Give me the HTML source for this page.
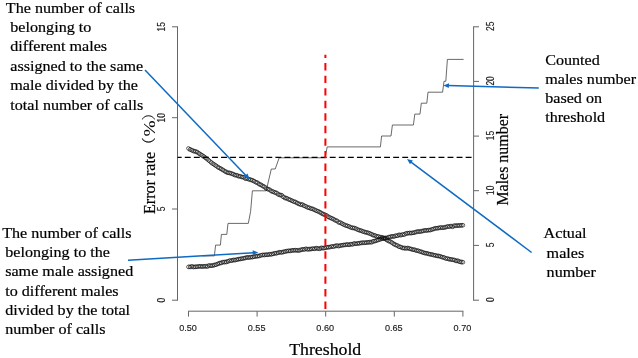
<!DOCTYPE html>
<html><head><meta charset="utf-8"><title>Threshold</title>
<style>
html,body{margin:0;padding:0;background:#fff;}
svg{display:block}
.tk{font-family:"Liberation Sans",sans-serif;font-size:9.1px;fill:#222;stroke:#222;stroke-width:0.15px}
.an{font-family:"Liberation Serif","Noto Serif CJK SC",serif;font-size:15.25px;fill:#000;stroke:#000;stroke-width:0.2px}
.lb{font-family:"Liberation Serif","Noto Serif CJK SC",serif;font-size:17.5px;fill:#000;stroke:#000;stroke-width:0.2px}
.pr{font-size:14px;stroke-width:0.1px}
.ax line,.ax polyline{stroke:#666;stroke-width:1;fill:none}
.pts circle{fill:none;stroke:#000;stroke-width:0.6}
.pts polyline{fill:none;stroke:#111;stroke-width:0.5}
.arr line{stroke:#0f6ac4;stroke-width:1.5}
.arr polygon{fill:#0f6ac4}
</style></head><body>
<svg width="638" height="358" viewBox="0 0 638 358">
<rect width="638" height="358" fill="#fff"/>
<g class="ax">
<line x1="177.5" y1="26.4" x2="177.5" y2="300.6"/><line x1="172" y1="300.2" x2="177.5" y2="300.2"/><line x1="172" y1="209.0" x2="177.5" y2="209.0"/><line x1="172" y1="117.7" x2="177.5" y2="117.7"/><line x1="172" y1="26.8" x2="177.5" y2="26.8"/>
<line x1="473.6" y1="26.4" x2="473.6" y2="300.6"/><line x1="473.5" y1="300.2" x2="479" y2="300.2"/><line x1="473.5" y1="245.4" x2="479" y2="245.4"/><line x1="473.5" y1="190.7" x2="479" y2="190.7"/><line x1="473.5" y1="136.1" x2="479" y2="136.1"/><line x1="473.5" y1="81.4" x2="479" y2="81.4"/><line x1="473.5" y1="26.8" x2="479" y2="26.8"/>
<line x1="188.05" y1="311.2" x2="463.35" y2="311.2"/><line x1="188.5" y1="311.2" x2="188.5" y2="316.6"/><line x1="257.1" y1="311.2" x2="257.1" y2="316.6"/><line x1="325.7" y1="311.2" x2="325.7" y2="316.6"/><line x1="394.3" y1="311.2" x2="394.3" y2="316.6"/><line x1="462.9" y1="311.2" x2="462.9" y2="316.6"/>
</g>
<text class="tk" transform="translate(165.0,300.2) rotate(-90) scale(0.93,1.13)" text-anchor="middle">0</text><text class="tk" transform="translate(165.0,209.0) rotate(-90) scale(0.93,1.13)" text-anchor="middle">5</text><text class="tk" transform="translate(165.0,117.7) rotate(-90) scale(0.93,1.13)" text-anchor="middle">10</text><text class="tk" transform="translate(165.0,26.8) rotate(-90) scale(0.93,1.13)" text-anchor="middle">15</text><text class="tk" transform="translate(493.6,299.6) rotate(-90) scale(0.93,1.13)" text-anchor="middle">0</text><text class="tk" transform="translate(493.6,244.9) rotate(-90) scale(0.93,1.13)" text-anchor="middle">5</text><text class="tk" transform="translate(493.6,190.2) rotate(-90) scale(0.93,1.13)" text-anchor="middle">10</text><text class="tk" transform="translate(493.6,135.6) rotate(-90) scale(0.93,1.13)" text-anchor="middle">15</text><text class="tk" transform="translate(493.6,80.89999999999999) rotate(-90) scale(0.93,1.13)" text-anchor="middle">20</text><text class="tk" transform="translate(493.6,26.200000000000003) rotate(-90) scale(0.93,1.13)" text-anchor="middle">25</text><text class="tk" x="188.0" y="330.6" text-anchor="middle">0.50</text><text class="tk" x="256.6" y="330.6" text-anchor="middle">0.55</text><text class="tk" x="325.2" y="330.6" text-anchor="middle">0.60</text><text class="tk" x="393.8" y="330.6" text-anchor="middle">0.65</text><text class="tk" x="462.4" y="330.6" text-anchor="middle">0.70</text>
<polyline points="202.4,255.9 214.4,255.9 215.6,245.1 220.4,245.1 221.4,234.4 226.8,234.4 228,223.4 248.3,223.4 250.6,211.5 252.4,190.8 266.2,190.8 271.3,169 275.2,169 279.2,157.8 325,157.8 327.2,146.9 380.4,146.9 381.6,136 391,136 392.4,125 413.4,125 414.8,114.1 420,114.1 421.3,103.2 426.8,103.2 428,92.2 442.6,92.2 444,81.3 445.8,81.3 447.4,59.4 463.6,59.4" fill="none" stroke="#444" stroke-width="0.8"/>
<line x1="177.5" y1="157.4" x2="473.5" y2="157.4" stroke="#000" stroke-width="1.1" stroke-dasharray="5.9,3.16" stroke-dashoffset="1.76"/>
<g class="pts"><circle cx="188.4" cy="148.4" r="1.8"/><circle cx="190.1" cy="149.4" r="1.8"/><circle cx="191.9" cy="150.3" r="1.8"/><circle cx="193.6" cy="151.2" r="1.8"/><circle cx="195.3" cy="151.3" r="1.8"/><circle cx="197.0" cy="151.9" r="1.8"/><circle cx="198.8" cy="153.3" r="1.8"/><circle cx="200.5" cy="154.4" r="1.8"/><circle cx="202.2" cy="155.4" r="1.8"/><circle cx="203.9" cy="156.6" r="1.8"/><circle cx="205.7" cy="157.9" r="1.8"/><circle cx="207.4" cy="159.2" r="1.8"/><circle cx="209.1" cy="160.6" r="1.8"/><circle cx="210.9" cy="162.3" r="1.8"/><circle cx="212.6" cy="163.6" r="1.8"/><circle cx="214.3" cy="164.6" r="1.8"/><circle cx="216.0" cy="165.7" r="1.8"/><circle cx="217.8" cy="167.2" r="1.8"/><circle cx="219.5" cy="168.0" r="1.8"/><circle cx="221.2" cy="168.9" r="1.8"/><circle cx="222.9" cy="169.9" r="1.8"/><circle cx="224.7" cy="171.2" r="1.8"/><circle cx="226.4" cy="172.2" r="1.8"/><circle cx="228.1" cy="172.9" r="1.8"/><circle cx="229.8" cy="172.9" r="1.8"/><circle cx="231.6" cy="173.5" r="1.8"/><circle cx="233.3" cy="174.2" r="1.8"/><circle cx="235.0" cy="175.2" r="1.8"/><circle cx="236.8" cy="175.2" r="1.8"/><circle cx="238.5" cy="176.3" r="1.8"/><circle cx="240.2" cy="176.3" r="1.8"/><circle cx="241.9" cy="176.9" r="1.8"/><circle cx="243.7" cy="177.2" r="1.8"/><circle cx="245.4" cy="178.7" r="1.8"/><circle cx="247.1" cy="178.4" r="1.8"/><circle cx="248.8" cy="179.2" r="1.8"/><circle cx="250.6" cy="179.8" r="1.8"/><circle cx="252.3" cy="180.2" r="1.8"/><circle cx="254.0" cy="181.1" r="1.8"/><circle cx="255.8" cy="182.2" r="1.8"/><circle cx="257.5" cy="182.7" r="1.8"/><circle cx="259.2" cy="184.2" r="1.8"/><circle cx="260.9" cy="184.8" r="1.8"/><circle cx="262.7" cy="185.9" r="1.8"/><circle cx="264.4" cy="186.8" r="1.8"/><circle cx="266.1" cy="188.5" r="1.8"/><circle cx="267.8" cy="189.1" r="1.8"/><circle cx="269.6" cy="189.6" r="1.8"/><circle cx="271.3" cy="191.2" r="1.8"/><circle cx="273.0" cy="191.7" r="1.8"/><circle cx="274.8" cy="192.4" r="1.8"/><circle cx="276.5" cy="192.8" r="1.8"/><circle cx="278.2" cy="194.5" r="1.8"/><circle cx="279.9" cy="195.0" r="1.8"/><circle cx="281.7" cy="195.1" r="1.8"/><circle cx="283.4" cy="197.0" r="1.8"/><circle cx="285.1" cy="198.2" r="1.8"/><circle cx="286.8" cy="198.2" r="1.8"/><circle cx="288.6" cy="199.3" r="1.8"/><circle cx="290.3" cy="199.9" r="1.8"/><circle cx="292.0" cy="200.8" r="1.8"/><circle cx="293.7" cy="201.6" r="1.8"/><circle cx="295.5" cy="201.9" r="1.8"/><circle cx="297.2" cy="203.1" r="1.8"/><circle cx="298.9" cy="204.0" r="1.8"/><circle cx="300.7" cy="204.7" r="1.8"/><circle cx="302.4" cy="204.4" r="1.8"/><circle cx="304.1" cy="205.7" r="1.8"/><circle cx="305.8" cy="206.4" r="1.8"/><circle cx="307.6" cy="207.5" r="1.8"/><circle cx="309.3" cy="207.8" r="1.8"/><circle cx="311.0" cy="208.6" r="1.8"/><circle cx="312.7" cy="208.8" r="1.8"/><circle cx="314.5" cy="209.8" r="1.8"/><circle cx="316.2" cy="210.7" r="1.8"/><circle cx="317.9" cy="211.2" r="1.8"/><circle cx="319.7" cy="212.0" r="1.8"/><circle cx="321.4" cy="213.2" r="1.8"/><circle cx="323.1" cy="214.2" r="1.8"/><circle cx="324.8" cy="214.6" r="1.8"/><circle cx="326.6" cy="215.4" r="1.8"/><circle cx="328.3" cy="216.9" r="1.8"/><circle cx="330.0" cy="217.7" r="1.8"/><circle cx="331.7" cy="218.3" r="1.8"/><circle cx="333.5" cy="219.1" r="1.8"/><circle cx="335.2" cy="220.3" r="1.8"/><circle cx="336.9" cy="220.7" r="1.8"/><circle cx="338.7" cy="222.5" r="1.8"/><circle cx="340.4" cy="222.6" r="1.8"/><circle cx="342.1" cy="223.6" r="1.8"/><circle cx="343.8" cy="224.6" r="1.8"/><circle cx="345.6" cy="225.5" r="1.8"/><circle cx="347.3" cy="225.8" r="1.8"/><circle cx="349.0" cy="226.5" r="1.8"/><circle cx="350.7" cy="227.5" r="1.8"/><circle cx="352.5" cy="227.9" r="1.8"/><circle cx="354.2" cy="227.9" r="1.8"/><circle cx="355.9" cy="228.6" r="1.8"/><circle cx="357.7" cy="229.7" r="1.8"/><circle cx="359.4" cy="230.3" r="1.8"/><circle cx="361.1" cy="230.6" r="1.8"/><circle cx="362.8" cy="231.4" r="1.8"/><circle cx="364.6" cy="232.1" r="1.8"/><circle cx="366.3" cy="232.4" r="1.8"/><circle cx="368.0" cy="232.7" r="1.8"/><circle cx="369.7" cy="233.4" r="1.8"/><circle cx="371.5" cy="234.2" r="1.8"/><circle cx="373.2" cy="235.3" r="1.8"/><circle cx="374.9" cy="235.4" r="1.8"/><circle cx="376.6" cy="236.4" r="1.8"/><circle cx="378.4" cy="236.5" r="1.8"/><circle cx="380.1" cy="237.3" r="1.8"/><circle cx="381.8" cy="237.2" r="1.8"/><circle cx="383.6" cy="237.7" r="1.8"/><circle cx="385.3" cy="238.8" r="1.8"/><circle cx="387.0" cy="240.2" r="1.8"/><circle cx="388.7" cy="241.1" r="1.8"/><circle cx="390.5" cy="241.6" r="1.8"/><circle cx="392.2" cy="242.7" r="1.8"/><circle cx="393.9" cy="244.1" r="1.8"/><circle cx="395.6" cy="245.0" r="1.8"/><circle cx="397.4" cy="245.5" r="1.8"/><circle cx="399.1" cy="246.8" r="1.8"/><circle cx="400.8" cy="247.0" r="1.8"/><circle cx="402.6" cy="248.1" r="1.8"/><circle cx="404.3" cy="248.2" r="1.8"/><circle cx="406.0" cy="248.4" r="1.8"/><circle cx="407.7" cy="247.9" r="1.8"/><circle cx="409.5" cy="248.6" r="1.8"/><circle cx="411.2" cy="249.1" r="1.8"/><circle cx="412.9" cy="249.7" r="1.8"/><circle cx="414.6" cy="249.7" r="1.8"/><circle cx="416.4" cy="250.6" r="1.8"/><circle cx="418.1" cy="250.7" r="1.8"/><circle cx="419.8" cy="251.4" r="1.8"/><circle cx="421.6" cy="251.9" r="1.8"/><circle cx="423.3" cy="252.7" r="1.8"/><circle cx="425.0" cy="253.2" r="1.8"/><circle cx="426.7" cy="253.2" r="1.8"/><circle cx="428.5" cy="253.9" r="1.8"/><circle cx="430.2" cy="254.3" r="1.8"/><circle cx="431.9" cy="254.5" r="1.8"/><circle cx="433.6" cy="255.1" r="1.8"/><circle cx="435.4" cy="255.4" r="1.8"/><circle cx="437.1" cy="256.0" r="1.8"/><circle cx="438.8" cy="255.9" r="1.8"/><circle cx="440.5" cy="256.5" r="1.8"/><circle cx="442.3" cy="257.2" r="1.8"/><circle cx="444.0" cy="257.5" r="1.8"/><circle cx="445.7" cy="258.5" r="1.8"/><circle cx="447.5" cy="258.6" r="1.8"/><circle cx="449.2" cy="259.2" r="1.8"/><circle cx="450.9" cy="259.4" r="1.8"/><circle cx="452.6" cy="259.7" r="1.8"/><circle cx="454.4" cy="259.9" r="1.8"/><circle cx="456.1" cy="261.0" r="1.8"/><circle cx="457.8" cy="260.6" r="1.8"/><circle cx="459.5" cy="261.7" r="1.8"/><circle cx="461.3" cy="262.2" r="1.8"/><circle cx="463.0" cy="262.2" r="1.8"/><polyline points="187.9,150.7 189.6,151.2 191.2,151.8 192.9,152.5 194.5,153.2 196.3,154.0 197.9,154.8 199.5,155.8 201.2,157.0 202.9,158.2 204.6,159.4 206.3,160.7 208.0,162.1 209.8,163.5 211.5,164.8 213.3,166.1 215.1,167.3 216.8,168.4 218.5,169.5 220.3,170.6 222.0,171.6 223.8,172.6 225.7,173.5 227.5,174.2 229.3,174.8 231.0,175.5 232.7,175.9 234.4,176.6 236.2,177.2 238.0,177.7 239.7,178.1 241.4,178.8 243.2,179.2 244.8,179.8 246.5,180.4 248.3,181.0 250.0,181.4 251.6,182.1 253.3,182.8 254.9,183.7 256.6,184.6 258.3,185.5 260.0,186.4 261.7,187.6 263.5,188.6 265.2,189.5 266.9,190.6 268.7,191.6 270.6,192.4 272.2,193.2 273.9,194.1 275.8,194.9 277.5,195.6 279.0,196.4 280.8,197.5 282.6,198.3 284.3,199.2 286.0,200.1 287.9,200.9 289.6,201.6 291.3,202.3 293.0,203.1 294.7,203.9 296.6,204.7 298.3,205.3 300.0,206.0 301.7,206.7 303.5,207.4 305.1,208.0 306.9,208.8 308.6,209.5 310.4,210.2 312.1,210.8 313.8,211.5 315.5,212.1 317.1,213.0 318.9,213.9 320.6,214.7 322.3,215.5 324.0,216.4 325.8,217.4 327.5,218.2 329.2,219.1 330.9,220.1 332.7,220.8 334.4,221.8 336.1,222.6 337.8,223.5 339.5,224.4 341.3,225.4 343.1,226.1 344.8,226.8 346.6,227.6 348.5,228.3 350.2,228.8 351.9,229.4 353.6,230.0 355.4,230.6 357.0,231.1 358.7,231.8 360.5,232.5 362.3,233.1 364.0,233.6 365.7,234.1 367.4,234.7 369.1,235.3 370.8,235.9 372.5,236.6 374.3,237.2 376.1,237.9 378.0,238.3 379.6,238.8 381.2,239.2 382.9,239.9 384.5,240.6 386.1,241.4 387.8,242.4 389.6,243.5 391.3,244.5 393.0,245.4 394.8,246.4 396.6,247.3 398.4,248.1 400.2,248.8 402.2,249.4 404.0,249.7 405.7,250.0 407.5,250.2 409.2,250.5 410.8,250.7 412.4,251.3 414.2,251.7 415.9,252.2 417.6,252.6 419.3,253.2 421.0,253.7 422.8,254.2 424.5,254.7 426.3,255.2 428.1,255.6 429.8,256.0 431.5,256.4 433.3,256.8 435.0,257.1 436.7,257.5 438.4,257.9 440.1,258.3 441.8,258.8 443.5,259.4 445.2,259.9 447.0,260.4 448.8,260.9 450.5,261.1 452.3,261.6 454.0,261.9 455.6,262.3 457.3,262.8 459.2,263.3 461.0,263.6 462.7,263.9"/><polyline points="188.9,147.3 190.7,147.8 192.5,148.4 194.3,149.2 196.1,150.0 197.8,150.8 199.6,151.7 201.5,152.8 203.2,154.0 205.0,155.2 206.8,156.5 208.5,157.9 210.2,159.3 211.9,160.6 213.7,161.9 215.3,163.2 217.0,164.3 218.7,165.3 220.4,166.4 222.2,167.5 223.8,168.5 225.5,169.4 227.1,170.2 228.8,170.9 230.4,171.4 232.1,172.0 233.9,172.5 235.6,173.2 237.3,173.7 239.0,174.2 240.8,174.7 242.5,175.4 244.2,175.7 246.0,176.4 247.7,177.0 249.4,177.5 251.2,178.0 253.0,178.8 254.8,179.5 256.6,180.5 258.3,181.4 260.1,182.4 261.9,183.3 263.6,184.5 265.3,185.4 267.0,186.4 268.8,187.5 270.4,188.4 272.0,189.2 273.8,189.9 275.6,190.9 277.2,191.6 279.0,192.3 280.8,193.3 282.5,194.3 284.2,195.1 286.0,196.0 287.6,196.9 289.3,197.6 291.0,198.3 292.7,199.0 294.5,199.8 296.2,200.6 297.9,201.4 299.6,201.9 301.3,202.7 303.0,203.3 304.8,204.0 306.5,204.7 308.3,205.5 309.9,206.1 311.7,206.8 313.4,207.5 315.1,208.1 316.9,208.8 318.7,209.8 320.4,210.6 322.2,211.4 324.0,212.3 325.7,213.3 327.4,214.2 329.1,215.0 330.9,215.9 332.6,216.8 334.3,217.6 336.0,218.6 337.7,219.4 339.5,220.3 341.2,221.2 342.9,222.1 344.5,222.8 346.3,223.6 348.0,224.3 349.6,224.9 351.3,225.4 353.1,226.0 354.8,226.6 356.5,227.1 358.3,227.7 360.1,228.5 361.7,229.1 363.3,229.6 365.1,230.1 366.8,230.7 368.6,231.3 370.3,231.9 372.1,232.5 373.9,233.2 375.5,233.9 377.2,234.5 378.8,234.8 380.6,235.3 382.4,235.8 384.3,236.6 386.1,237.3 387.9,238.3 389.7,239.3 391.4,240.4 393.0,241.3 394.8,242.2 396.5,243.2 398.2,244.1 399.8,244.8 401.4,245.4 402.9,245.9 404.6,246.1 406.3,246.4 408.0,246.6 409.8,246.9 411.6,247.2 413.4,247.8 415.1,248.2 416.8,248.7 418.6,249.1 420.4,249.7 422.1,250.2 423.8,250.7 425.5,251.3 427.2,251.7 428.8,252.1 430.6,252.5 432.4,252.9 434.0,253.3 435.7,253.6 437.5,254.0 439.2,254.4 441.0,254.9 442.8,255.4 444.6,255.9 446.2,256.5 447.9,256.9 449.6,257.3 451.3,257.6 453.0,258.1 454.7,258.4 456.6,258.9 458.3,259.4 459.9,259.8 461.6,260.0 463.3,260.4"/><circle cx="188.4" cy="266.9" r="1.8"/><circle cx="190.1" cy="267.0" r="1.8"/><circle cx="191.9" cy="266.3" r="1.8"/><circle cx="193.6" cy="267.1" r="1.8"/><circle cx="195.3" cy="266.9" r="1.8"/><circle cx="197.0" cy="266.7" r="1.8"/><circle cx="198.8" cy="266.3" r="1.8"/><circle cx="200.5" cy="266.3" r="1.8"/><circle cx="202.2" cy="266.6" r="1.8"/><circle cx="203.9" cy="266.3" r="1.8"/><circle cx="205.7" cy="266.3" r="1.8"/><circle cx="207.4" cy="266.6" r="1.8"/><circle cx="209.1" cy="265.4" r="1.8"/><circle cx="210.9" cy="265.7" r="1.8"/><circle cx="212.6" cy="265.6" r="1.8"/><circle cx="214.3" cy="265.1" r="1.8"/><circle cx="216.0" cy="264.7" r="1.8"/><circle cx="217.8" cy="263.9" r="1.8"/><circle cx="219.5" cy="263.1" r="1.8"/><circle cx="221.2" cy="262.9" r="1.8"/><circle cx="222.9" cy="262.0" r="1.8"/><circle cx="224.7" cy="262.1" r="1.8"/><circle cx="226.4" cy="262.1" r="1.8"/><circle cx="228.1" cy="261.3" r="1.8"/><circle cx="229.8" cy="260.5" r="1.8"/><circle cx="231.6" cy="260.7" r="1.8"/><circle cx="233.3" cy="259.9" r="1.8"/><circle cx="235.0" cy="260.2" r="1.8"/><circle cx="236.8" cy="259.7" r="1.8"/><circle cx="238.5" cy="259.1" r="1.8"/><circle cx="240.2" cy="259.0" r="1.8"/><circle cx="241.9" cy="258.7" r="1.8"/><circle cx="243.7" cy="258.3" r="1.8"/><circle cx="245.4" cy="257.9" r="1.8"/><circle cx="247.1" cy="257.3" r="1.8"/><circle cx="248.8" cy="257.6" r="1.8"/><circle cx="250.6" cy="257.2" r="1.8"/><circle cx="252.3" cy="257.1" r="1.8"/><circle cx="254.0" cy="256.7" r="1.8"/><circle cx="255.8" cy="256.3" r="1.8"/><circle cx="257.5" cy="256.2" r="1.8"/><circle cx="259.2" cy="256.1" r="1.8"/><circle cx="260.9" cy="255.2" r="1.8"/><circle cx="262.7" cy="254.8" r="1.8"/><circle cx="264.4" cy="255.0" r="1.8"/><circle cx="266.1" cy="254.7" r="1.8"/><circle cx="267.8" cy="254.8" r="1.8"/><circle cx="269.6" cy="254.2" r="1.8"/><circle cx="271.3" cy="254.4" r="1.8"/><circle cx="273.0" cy="253.9" r="1.8"/><circle cx="274.8" cy="253.2" r="1.8"/><circle cx="276.5" cy="253.3" r="1.8"/><circle cx="278.2" cy="252.7" r="1.8"/><circle cx="279.9" cy="252.1" r="1.8"/><circle cx="281.7" cy="252.5" r="1.8"/><circle cx="283.4" cy="252.0" r="1.8"/><circle cx="285.1" cy="251.5" r="1.8"/><circle cx="286.8" cy="251.0" r="1.8"/><circle cx="288.6" cy="250.8" r="1.8"/><circle cx="290.3" cy="251.0" r="1.8"/><circle cx="292.0" cy="250.4" r="1.8"/><circle cx="293.7" cy="250.3" r="1.8"/><circle cx="295.5" cy="250.1" r="1.8"/><circle cx="297.2" cy="250.4" r="1.8"/><circle cx="298.9" cy="250.6" r="1.8"/><circle cx="300.7" cy="249.9" r="1.8"/><circle cx="302.4" cy="249.3" r="1.8"/><circle cx="304.1" cy="249.5" r="1.8"/><circle cx="305.8" cy="248.7" r="1.8"/><circle cx="307.6" cy="249.3" r="1.8"/><circle cx="309.3" cy="249.3" r="1.8"/><circle cx="311.0" cy="249.0" r="1.8"/><circle cx="312.7" cy="248.6" r="1.8"/><circle cx="314.5" cy="248.9" r="1.8"/><circle cx="316.2" cy="248.0" r="1.8"/><circle cx="317.9" cy="248.6" r="1.8"/><circle cx="319.7" cy="248.9" r="1.8"/><circle cx="321.4" cy="247.7" r="1.8"/><circle cx="323.1" cy="248.2" r="1.8"/><circle cx="324.8" cy="248.0" r="1.8"/><circle cx="326.6" cy="247.4" r="1.8"/><circle cx="328.3" cy="247.2" r="1.8"/><circle cx="330.0" cy="247.1" r="1.8"/><circle cx="331.7" cy="246.4" r="1.8"/><circle cx="333.5" cy="246.7" r="1.8"/><circle cx="335.2" cy="245.9" r="1.8"/><circle cx="336.9" cy="245.5" r="1.8"/><circle cx="338.7" cy="246.2" r="1.8"/><circle cx="340.4" cy="245.6" r="1.8"/><circle cx="342.1" cy="245.2" r="1.8"/><circle cx="343.8" cy="245.0" r="1.8"/><circle cx="345.6" cy="244.8" r="1.8"/><circle cx="347.3" cy="244.4" r="1.8"/><circle cx="349.0" cy="244.9" r="1.8"/><circle cx="350.7" cy="244.2" r="1.8"/><circle cx="352.5" cy="244.4" r="1.8"/><circle cx="354.2" cy="243.4" r="1.8"/><circle cx="355.9" cy="243.8" r="1.8"/><circle cx="357.7" cy="243.4" r="1.8"/><circle cx="359.4" cy="243.3" r="1.8"/><circle cx="361.1" cy="242.9" r="1.8"/><circle cx="362.8" cy="242.6" r="1.8"/><circle cx="364.6" cy="242.8" r="1.8"/><circle cx="366.3" cy="242.6" r="1.8"/><circle cx="368.0" cy="242.3" r="1.8"/><circle cx="369.7" cy="242.2" r="1.8"/><circle cx="371.5" cy="242.4" r="1.8"/><circle cx="373.2" cy="241.3" r="1.8"/><circle cx="374.9" cy="241.0" r="1.8"/><circle cx="376.6" cy="240.5" r="1.8"/><circle cx="378.4" cy="239.9" r="1.8"/><circle cx="380.1" cy="239.2" r="1.8"/><circle cx="381.8" cy="238.8" r="1.8"/><circle cx="383.6" cy="238.5" r="1.8"/><circle cx="385.3" cy="238.0" r="1.8"/><circle cx="387.0" cy="238.0" r="1.8"/><circle cx="388.7" cy="237.1" r="1.8"/><circle cx="390.5" cy="236.7" r="1.8"/><circle cx="392.2" cy="236.3" r="1.8"/><circle cx="393.9" cy="236.6" r="1.8"/><circle cx="395.6" cy="235.8" r="1.8"/><circle cx="397.4" cy="235.7" r="1.8"/><circle cx="399.1" cy="234.7" r="1.8"/><circle cx="400.8" cy="235.2" r="1.8"/><circle cx="402.6" cy="234.6" r="1.8"/><circle cx="404.3" cy="234.6" r="1.8"/><circle cx="406.0" cy="233.4" r="1.8"/><circle cx="407.7" cy="233.1" r="1.8"/><circle cx="409.5" cy="232.9" r="1.8"/><circle cx="411.2" cy="233.2" r="1.8"/><circle cx="412.9" cy="232.9" r="1.8"/><circle cx="414.6" cy="232.5" r="1.8"/><circle cx="416.4" cy="231.8" r="1.8"/><circle cx="418.1" cy="231.4" r="1.8"/><circle cx="419.8" cy="231.7" r="1.8"/><circle cx="421.6" cy="231.3" r="1.8"/><circle cx="423.3" cy="230.8" r="1.8"/><circle cx="425.0" cy="230.3" r="1.8"/><circle cx="426.7" cy="230.5" r="1.8"/><circle cx="428.5" cy="230.1" r="1.8"/><circle cx="430.2" cy="230.2" r="1.8"/><circle cx="431.9" cy="229.5" r="1.8"/><circle cx="433.6" cy="228.9" r="1.8"/><circle cx="435.4" cy="228.2" r="1.8"/><circle cx="437.1" cy="228.3" r="1.8"/><circle cx="438.8" cy="228.0" r="1.8"/><circle cx="440.5" cy="227.4" r="1.8"/><circle cx="442.3" cy="227.8" r="1.8"/><circle cx="444.0" cy="227.6" r="1.8"/><circle cx="445.7" cy="227.2" r="1.8"/><circle cx="447.5" cy="226.4" r="1.8"/><circle cx="449.2" cy="226.6" r="1.8"/><circle cx="450.9" cy="226.0" r="1.8"/><circle cx="452.6" cy="226.9" r="1.8"/><circle cx="454.4" cy="225.6" r="1.8"/><circle cx="456.1" cy="225.6" r="1.8"/><circle cx="457.8" cy="225.6" r="1.8"/><circle cx="459.5" cy="225.5" r="1.8"/><circle cx="461.3" cy="225.3" r="1.8"/><circle cx="463.0" cy="225.2" r="1.8"/><polyline points="188.4,268.6 190.1,268.6 191.9,268.6 193.7,268.6 195.4,268.5 197.1,268.5 198.9,268.4 200.6,268.3 202.2,268.2 204.0,268.2 205.9,268.0 207.6,267.8 209.3,267.7 211.2,267.4 212.9,267.1 214.7,266.8 216.5,266.2 218.3,265.7 220.1,265.1 221.7,264.6 223.3,264.2 225.1,263.8 226.8,263.3 228.5,263.1 230.3,262.6 231.9,262.3 233.6,262.0 235.3,261.7 237.1,261.3 238.8,261.1 240.6,260.7 242.3,260.4 244.0,260.0 245.7,259.7 247.4,259.4 249.1,259.2 250.8,259.0 252.6,258.8 254.3,258.5 256.1,258.2 257.9,257.8 259.5,257.5 261.2,257.2 262.9,256.9 264.6,256.7 266.3,256.5 268.0,256.4 269.8,256.2 271.6,255.9 273.3,255.6 275.1,255.3 276.9,254.8 278.5,254.5 280.2,254.3 282.0,253.9 283.7,253.6 285.4,253.3 287.2,253.0 288.9,252.7 290.5,252.5 292.2,252.3 293.8,252.2 295.6,252.2 297.4,252.1 299.1,251.9 300.9,251.8 302.7,251.4 304.3,251.1 305.9,251.0 307.7,250.9 309.4,250.8 311.1,250.8 312.9,250.5 314.5,250.4 316.3,250.4 318.1,250.2 319.7,250.1 321.5,250.1 323.4,249.8 325.1,249.5 326.8,249.4 328.6,249.0 330.3,248.7 332.1,248.4 333.7,248.1 335.4,247.9 337.2,247.7 338.9,247.5 340.5,247.3 342.4,247.1 344.1,246.8 345.7,246.6 347.5,246.4 349.2,246.3 350.9,246.0 352.7,245.9 354.4,245.6 356.2,245.4 357.9,245.2 359.6,245.0 361.3,244.8 363.0,244.7 364.7,244.5 366.4,244.3 368.2,244.3 370.1,243.9 371.8,243.6 373.6,243.2 375.5,242.8 377.2,242.1 378.9,241.6 380.6,241.1 382.3,240.6 384.0,240.2 385.7,239.8 387.4,239.4 389.1,239.0 390.8,238.7 392.6,238.3 394.3,238.0 396.0,237.6 397.7,237.4 399.4,237.0 401.2,236.7 402.9,236.3 404.7,236.0 406.4,235.5 408.0,235.2 409.7,234.9 411.4,234.7 413.2,234.4 415.0,234.1 416.7,233.8 418.4,233.5 420.1,233.2 421.8,232.9 423.5,232.7 425.3,232.4 427.0,232.2 428.7,231.9 430.6,231.6 432.3,231.1 434.0,230.8 435.8,230.3 437.4,229.9 439.0,229.7 440.7,229.6 442.6,229.4 444.2,229.1 446.0,228.9 447.7,228.5 449.4,228.4 451.2,228.1 452.8,227.9 454.5,227.7 456.3,227.6 458.0,227.3 459.6,227.2 461.4,227.2 463.1,227.1"/><polyline points="188.4,265.0 190.2,265.0 191.8,265.0 193.5,265.0 195.2,264.9 197.0,264.9 198.6,264.8 200.4,264.7 202.2,264.6 203.9,264.6 205.5,264.4 207.2,264.2 208.9,264.1 210.5,263.9 212.2,263.5 213.9,263.2 215.5,262.8 217.2,262.3 218.9,261.6 220.8,261.1 222.6,260.7 224.2,260.3 226.0,259.8 227.8,259.6 229.4,259.1 231.2,258.7 233.0,258.4 234.7,258.1 236.5,257.8 238.2,257.6 239.8,257.2 241.6,256.8 243.3,256.5 245.1,256.2 246.9,255.9 248.6,255.6 250.3,255.4 252.0,255.2 253.8,254.9 255.4,254.7 257.1,254.3 258.9,253.9 260.7,253.7 262.4,253.4 264.2,253.1 266.0,252.9 267.7,252.8 269.3,252.6 271.0,252.3 272.7,252.0 274.4,251.7 276.1,251.3 277.9,251.0 279.6,250.7 281.3,250.4 283.1,250.0 284.8,249.8 286.5,249.5 288.3,249.2 290.1,248.9 291.9,248.7 293.7,248.6 295.4,248.6 297.1,248.5 298.8,248.3 300.4,248.2 302.1,247.8 303.9,247.6 305.7,247.4 307.4,247.3 309.2,247.2 310.9,247.2 312.6,247.0 314.4,246.8 316.1,246.8 317.8,246.6 319.6,246.5 321.3,246.5 322.8,246.3 324.6,245.9 326.3,245.8 328.0,245.4 329.7,245.2 331.4,244.9 333.2,244.5 335.0,244.3 336.7,244.2 338.4,243.9 340.2,243.7 341.9,243.6 343.6,243.2 345.4,243.1 347.1,242.9 348.8,242.7 350.5,242.5 352.3,242.3 353.9,242.0 355.7,241.9 357.4,241.6 359.2,241.4 360.9,241.2 362.6,241.1 364.4,240.9 366.2,240.7 367.8,240.7 369.4,240.4 371.1,240.1 372.8,239.7 374.4,239.3 376.1,238.7 377.9,238.2 379.6,237.7 381.4,237.1 383.2,236.7 384.9,236.3 386.6,235.9 388.4,235.5 390.1,235.2 391.8,234.7 393.6,234.4 395.3,234.0 397.1,233.8 398.8,233.4 400.5,233.2 402.2,232.8 403.9,232.4 405.6,232.0 407.4,231.7 409.2,231.4 410.9,231.2 412.6,230.9 414.3,230.6 416.1,230.3 417.8,230.0 419.5,229.6 421.3,229.3 423.0,229.2 424.7,228.8 426.5,228.6 428.2,228.4 429.8,228.1 431.5,227.6 433.2,227.3 434.9,226.8 436.8,226.4 438.6,226.1 440.4,226.0 442.0,225.8 443.8,225.5 445.5,225.3 447.2,225.0 448.9,224.8 450.7,224.5 452.4,224.3 454.2,224.1 455.9,224.0 457.6,223.7 459.5,223.6 461.2,223.6 462.9,223.5"/></g>
<line x1="325.4" y1="54.7" x2="325.4" y2="310" stroke="#f00" stroke-width="2" stroke-dasharray="7.4,5.15" stroke-dashoffset="4.15"/>
<g class="arr"><line x1="145" y1="70" x2="246.4" y2="175.9"/><polygon points="249.6,179.2 247.5,173.5 244.0,176.8"/><line x1="128" y1="260.2" x2="253.7" y2="252.7"/><polygon points="258.3,252.4 252.6,250.3 252.9,255.1"/><line x1="538.8" y1="88.0" x2="447.9" y2="85.6"/><polygon points="443.3,85.5 448.8,88.0 449.0,83.2"/><line x1="531.6" y1="252.5" x2="410.7" y2="161.8"/><polygon points="407,159 410.0,164.3 412.9,160.4"/></g>
<text class="an" transform="translate(5.8,12.5) scale(1.057,1)">The number of calls</text><text class="an" transform="translate(10.3,31.9) scale(1.057,1)">belonging to</text><text class="an" transform="translate(10.3,51.3) scale(1.057,1)">different males</text><text class="an" transform="translate(10.3,70.8) scale(1.057,1)">assigned to the same</text><text class="an" transform="translate(10.3,90.2) scale(1.057,1)">male divided by the</text><text class="an" transform="translate(10.3,109.6) scale(1.057,1)">total number of calls</text><text class="an" transform="translate(2.2,237.8) scale(1.057,1)">The number of calls</text><text class="an" transform="translate(5.2,257.1) scale(1.057,1)">belonging to the</text><text class="an" transform="translate(5.2,276.4) scale(1.057,1)">same male assigned</text><text class="an" transform="translate(5.2,295.7) scale(1.057,1)">to different males</text><text class="an" transform="translate(5.2,315.0) scale(1.057,1)">divided by the total</text><text class="an" transform="translate(5.2,334.3) scale(1.057,1)">number of calls</text><text class="an" transform="translate(545.2,64.6) scale(1.057,1)">Counted</text><text class="an" transform="translate(545.2,83.9) scale(1.057,1)">males number</text><text class="an" transform="translate(545.2,103.1) scale(1.057,1)">based on</text><text class="an" transform="translate(545.2,122.4) scale(1.057,1)">threshold</text><text class="an" transform="translate(543.6,238.0) scale(1.057,1)">Actual</text><text class="an" transform="translate(546.6,257.6) scale(1.057,1)">males</text><text class="an" transform="translate(546.6,277.2) scale(1.057,1)">number</text>
<text class="lb" transform="translate(325.2,355.3) scale(1.07,1)" text-anchor="middle" style="font-size:16.6px">Threshold</text>
<text class="lb" transform="translate(154.6,214) rotate(-90)" style="font-size:16.1px">Error rate</text>
<text class="lb pr" transform="translate(153.2,151.5) rotate(-90)">（</text>
<text class="lb" transform="translate(154.6,136.6) rotate(-90) scale(1.2,1)" style="font-size:16.1px;stroke-width:0">%</text>
<text class="lb pr" transform="translate(153.2,120.3) rotate(-90)">）</text>
<text class="lb" transform="translate(508.2,205.6) rotate(-90)" style="font-size:15.95px">Males number</text>
</svg>
</body></html>
